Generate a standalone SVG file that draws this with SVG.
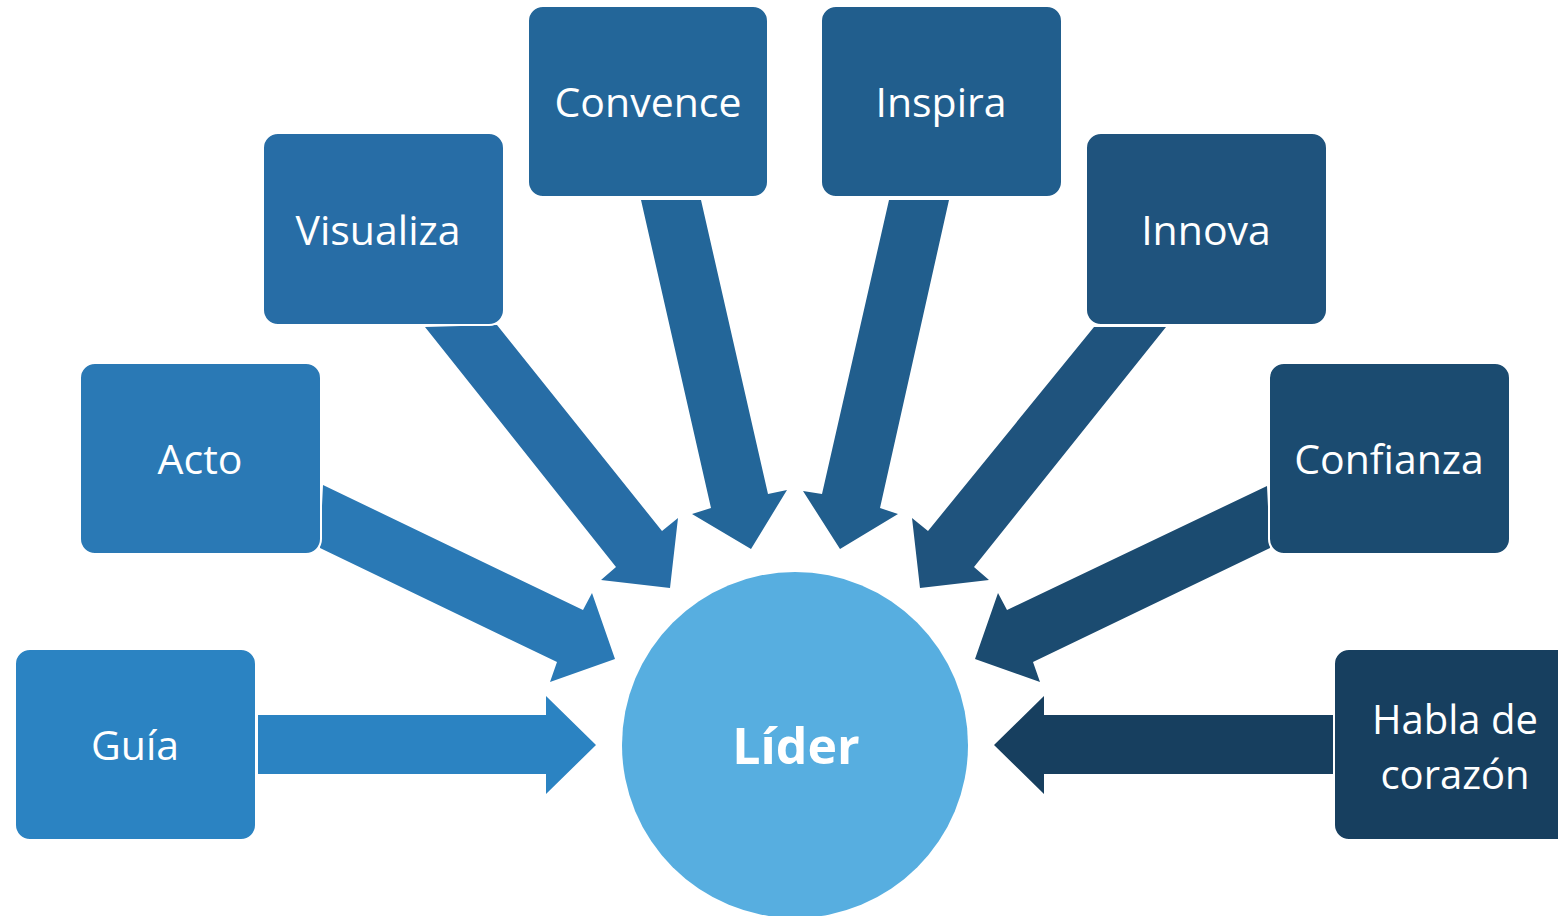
<svg xmlns="http://www.w3.org/2000/svg" width="1558" height="916" viewBox="0 0 1558 916">
<style>
.box{stroke:#ffffff;stroke-width:2}
.lbl{font-family:"Open Sans","Noto Sans",sans-serif;font-size:41px;fill:#ffffff;text-anchor:middle;dominant-baseline:central}
.two{font-size:40px}
.ctr{font-family:"Open Sans","Noto Sans",sans-serif;font-size:50px;font-weight:bold;fill:#ffffff;text-anchor:middle;dominant-baseline:central}
</style>
<rect width="1558" height="916" fill="#ffffff"/>
<g id="connectors">
<polygon fill="#2B83C2" points="258,715 546,715 546,696 596,745 546,794 546,774 258,774"/>
<polygon fill="#173F5F" points="1333,715 1044,715 1044,696 994,745 1044,794 1044,774 1333,774"/>
<polygon fill="#2A79B5" points="323,485 583,610 592,593 615,659 550,682 557,662 320,548"/>
<polygon fill="#276DA6" points="497,325 662,531 678,518 670,588 601,580 616,567 425,327"/>
<polygon fill="#236699" points="701,200 768,494 787,490 751,549 692,514 711,508 641,200"/>
<polygon fill="#215E8D" points="889,200 822,494 803,491 840,549 898,514 880,508 949,200"/>
<polygon fill="#1F537D" points="1094,327 928,531 912,518 920,588 989,580 974,567 1166,327"/>
<polygon fill="#1B4B70" points="1267,486 1007,610 998,593 975,659 1040,682 1033,662 1270,548"/>
</g>
<g id="lider">
<circle cx="795" cy="745" r="173" fill="#57AEE0"/>
<text class="ctr" x="796" y="745">Líder</text>
</g>
<g id="guia">
<rect class="box" x="15" y="649" width="241" height="191" rx="15" fill="#2B83C2"/>
<text class="lbl" x="135" y="744">Guía</text>
</g>
<g id="acto">
<rect class="box" x="80" y="363" width="241" height="191" rx="15" fill="#2A79B5"/>
<text class="lbl" x="200" y="458">Acto</text>
</g>
<g id="visualiza">
<rect class="box" x="263" y="133" width="241" height="192" rx="15" fill="#276DA6"/>
<text class="lbl" x="378" y="229">Visualiza</text>
</g>
<g id="convence">
<rect class="box" x="528" y="6" width="240" height="191" rx="15" fill="#236699"/>
<text class="lbl" x="648" y="101">Convence</text>
</g>
<g id="inspira">
<rect class="box" x="821" y="6" width="241" height="191" rx="15" fill="#215E8D"/>
<text class="lbl" x="941" y="101">Inspira</text>
</g>
<g id="innova">
<rect class="box" x="1086" y="133" width="241" height="192" rx="15" fill="#1F537D"/>
<text class="lbl" x="1206" y="229">Innova</text>
</g>
<g id="confianza">
<rect class="box" x="1269" y="363" width="241" height="191" rx="15" fill="#1B4B70"/>
<text class="lbl" x="1389" y="458">Confianza</text>
</g>
<g id="habla">
<rect class="box" x="1334" y="649" width="241" height="191" rx="15" fill="#173F5F"/>
<text class="lbl two" x="1455" y="718">Habla de</text>
<text class="lbl two" x="1455" y="773">corazón</text>
</g>
</svg>
